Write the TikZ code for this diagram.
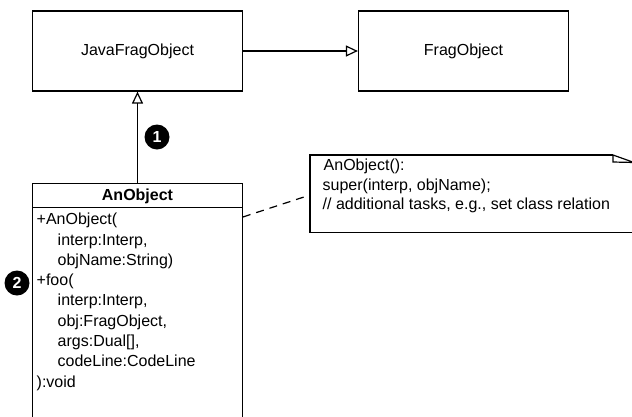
\documentclass[tikz,border=0pt]{standalone}
\usepackage{fontspec}
\setmainfont{Liberation Sans}
\usetikzlibrary{arrows.meta}
\begin{document}
\begin{tikzpicture}[x=1pt,y=-1pt,
  every node/.style={font=\fontsize{16}{20}\selectfont},
  box/.style={draw, line width=1.2pt, minimum width=210pt, minimum height=80pt, inner sep=0pt},
  gen/.style={-{Triangle[open,length=12pt,width=11pt]}, line width=1.2pt},
  num/.style={circle, fill=black, text=white, minimum size=25pt, inner sep=0pt, font=\fontsize{16}{16}\selectfont\bfseries},
  txt/.style={align=left, inner sep=0pt, anchor=base west, font=\fontsize{16}{20.3}\selectfont},
  frame/.style={line width=1.2pt}
]
\useasboundingbox (0,0) rectangle (632,416);
\clip (0,0) rectangle (632,416);
% top classes
\node[box] (jfo) at (137.5,51) {JavaFragObject};
\node[box] (fo) at (463.5,51) {FragObject};
\draw[gen] (jfo) -- (fo);
% AnObject class
\node[draw, frame, minimum width=209.5pt, minimum height=250pt, inner sep=0pt, anchor=north] (cls) at (137.5,183) {};
\draw[frame] ([yshift=-24.5pt]cls.north west) -- ([yshift=-24.5pt]cls.north east);
\node[font=\fontsize{16}{20}\selectfont\bfseries, anchor=base, inner sep=0pt] (clsname) at (137.5,200.7) {AnObject};
% base anchor of a multi-line node = baseline of its last line
\node[txt] (ops) at (36.5,387.1) {+AnObject(\\
\hspace*{21pt}interp:Interp,\\
\hspace*{21pt}objName:String)\\
+foo(\\
\hspace*{21pt}interp:Interp,\\
\hspace*{21pt}obj:FragObject,\\
\hspace*{21pt}args:Dual[],\\
\hspace*{21pt}codeLine:CodeLine\\
):void};
\draw[gen] (cls.north) -- (jfo.south);
% markers
\node[num] (n1) at (157,137) {1};
\node[num] (n2) at (17,283) {2};
% note
\node[inner sep=0pt, minimum width=340pt, minimum height=77pt, anchor=north west] (note) at (310,155) {};
\coordinate (fold) at (613,155);
\draw[frame] (fold) -- (note.north west) -- (note.south west) -- (note.south east);
\draw[frame, fill=white] (fold) -- ++(0,7) -- ++(21,0.5) -- cycle;
\node[txt, font=\fontsize{16}{19.5}\selectfont] (notetext) at (322.5,209.7) {\hspace*{1pt}AnObject():\\
super(interp, objName);\\
// additional tasks, e.g., set class relation};
% dashed link
\coordinate (d1) at ([yshift=-34pt]cls.north east);
\coordinate (d2) at ([yshift=-40pt]note.north west);
\draw[dash pattern=on 8pt off 6pt, line width=1.2pt] (d1) -- (d2);
\end{tikzpicture}
\end{document}
